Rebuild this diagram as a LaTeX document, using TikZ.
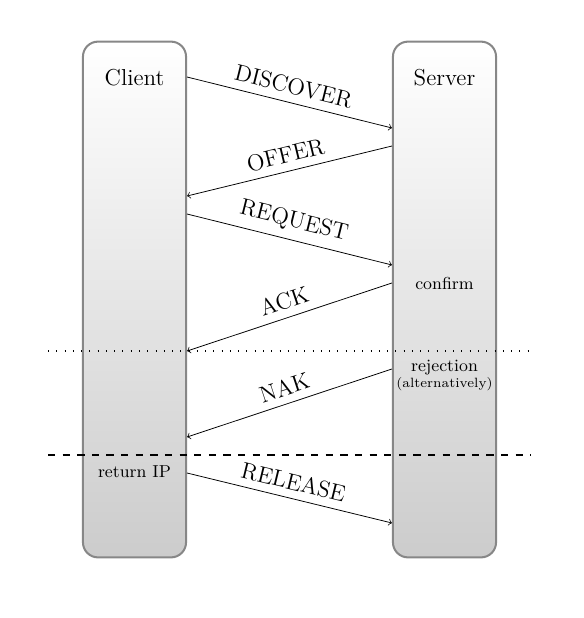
\documentclass[tikz,border=0pt]{standalone}
\usetikzlibrary{arrows}
\begin{document}
\begin{tikzpicture}[x=0.52pt,y=-0.52pt,
  lane/.style={draw=black!47, line width=1.05pt, rounded corners=7.8pt,
    top color=white, bottom color=black!20,
    minimum width=53.6pt, minimum height=268.2pt, inner sep=0pt},
  msg/.style={->, thin},
  lbl/.style={midway, above, sloped, font=\large, inner sep=4pt},
  note/.style={font=\small, inner sep=0pt}]
\useasboundingbox (0,0) rectangle (583,618);
\node[lane] (client) at (134.5,299.5) {};
\node[lane] (server) at (444.5,299.5) {};
\node[font=\large] (ct) at (134.5,78) {Client};
\node[font=\large] (st) at (444.5,78) {Server};
\node[note] (confirm) at (444.5,283) {confirm};
\node[note] (rej) at (444.5,368) {rejection};
\node[font=\scriptsize, inner sep=0pt] (alt) at (444.5,384) {(alternatively)};
\node[note] (ret) at (134.5,472) {return IP};

\draw[msg] (client.east |- 0,77) -- node[lbl]{DISCOVER} (server.west |- 0,128);
\draw[msg] (server.west |- 0,146) -- node[lbl]{OFFER} (client.east |- 0,196);
\draw[msg] (client.east |- 0,214) -- node[lbl]{REQUEST} (server.west |- 0,265);
\draw[msg] (server.west |- 0,283) -- node[lbl]{ACK} (client.east |- 0,351);
\draw[msg] (server.west |- 0,369) -- node[lbl]{NAK} (client.east |- 0,437);
\draw[msg] (client.east |- 0,473) -- node[lbl]{RELEASE} (server.west |- 0,523);

\coordinate (d1) at (48,351);
\coordinate (d2) at (531,351);
\coordinate (e1) at (48,455);
\coordinate (e2) at (531,455);
\draw[semithick, dash pattern=on 0.5pt off 3.8pt] (d1) -- (d2);
\draw[thick, dash pattern=on 3.8pt off 3.8pt] (e1) -- (e2);
\end{tikzpicture}
\end{document}
